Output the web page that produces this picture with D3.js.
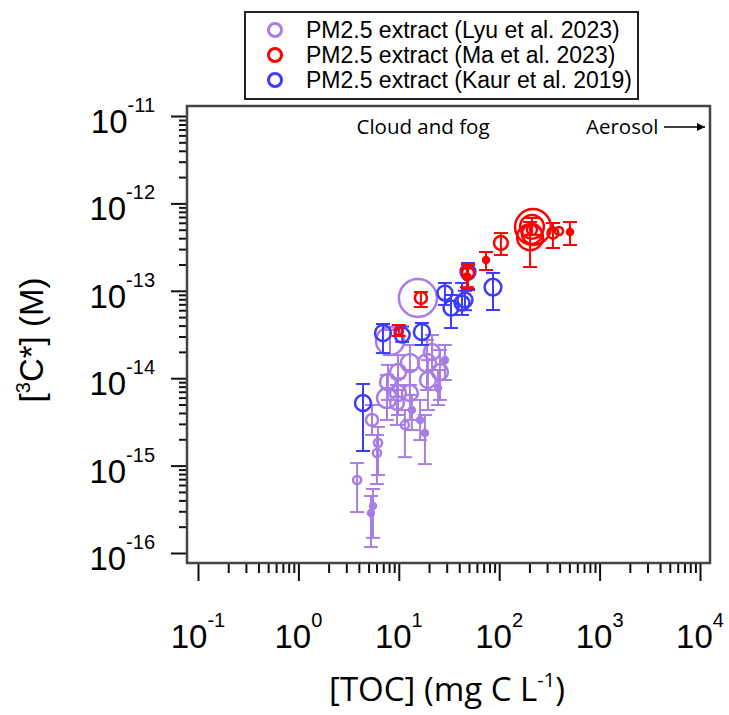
<!DOCTYPE html>
<html>
<head>
<meta charset="utf-8">
<script src="https://cdn.jsdelivr.net/npm/d3@7"></script>
<style>
  body { margin: 0; background: #fff; }
</style>
</head>
<body>
<div id="chart"></div>
<script>
// ---- data ----
// Lyu et al. 2023
const lyuToc = [15.5, 8.17, 12.9, 19.1, 9.82, 7.80, 7.63, 9.82, 12.9, 19.5, 25.7, 24.6, 9.60, 13.5, 16.3, 11.5, 18.2, 6.21, 6.06, 3.84, 5.53, 5.28, 21.4, 28.8, 5.41];
const lyuC3 = [8.28e-14, 2.67e-14, 1.49e-14, 1.49e-14, 1.18e-14, 9.06e-15, 5.93e-15, 6.78e-15, 6.78e-15, 9.53e-15, 1.18e-14, 7.73e-15, 5.20e-15, 4.32e-15, 3.33e-15, 2.92e-15, 2.36e-15, 1.82e-15, 1.39e-15, 6.84e-16, 3.45e-16, 2.87e-16, 2.00e-14, 1.61e-14, 3.33e-15];
const lyuLow = [null, 1.84e-14, 8.36e-15, 7.33e-15, 7.33e-15, 5.64e-15, 3.33e-15, 3.79e-15, 3.33e-15, 4.32e-15, 5.64e-15, 4.93e-15, 2.92e-15, 2.55e-15, 1.96e-15, 1.25e-15, 1.04e-15, 7.80e-16, 6.15e-16, 2.94e-16, 1.49e-16, 1.17e-16, 1.24e-14, 9.53e-15, 2.24e-15];
const lyuHigh = [null, 3.56e-14, 2.40e-14, 2.74e-14, 1.84e-14, 1.42e-14, 1.09e-14, 1.00e-14, 1.24e-14, 1.61e-14, 2.10e-14, 1.24e-14, 8.36e-15, 6.43e-15, 5.64e-15, 4.32e-15, 3.79e-15, 2.77e-15, 2.24e-15, 1.07e-15, 5.40e-16, 4.49e-16, 3.12e-14, 2.40e-14, 4.93e-15];
const lyuWeight = [10, 7.2, 4.4, 4.4, 3.8, 3.8, 4.9, 3.8, 3.8, 3.8, 3.8, 1, 3.2, 1, 1, 1.6, 1, 1.6, 1.6, 1.6, 1, 1, 3.8, 1, 2.7];

// Ma et al. 2023
const maToc = [16.6, 10.0, 48.9, 47.7, 73.9, 104, 217, 212, 212, 203, 212, 343, 394, 507];
const maC3 = [8.28e-14, 3.47e-14, 1.60e-13, 1.44e-13, 2.25e-13, 3.52e-13, 5.37e-13, 4.96e-13, 5.40e-13, 4.10e-13, 4.47e-13, 4.58e-13, 4.83e-13, 4.71e-13];
const maLow = [6.53e-14, 3.04e-14, 1.05e-13, 1.10e-13, 1.73e-13, 2.57e-13, null, 4.36e-13, null, 1.87e-13, null, 3.09e-13, null, 3.34e-13];
const maHigh = [9.69e-14, 4.06e-14, 1.97e-13, 1.80e-13, 2.78e-13, 4.58e-13, null, 6.81e-13, null, 6.12e-13, null, 5.97e-13, null, 6.12e-13];
const maWeight = [2.7, 1.6, 2.7, 1.3, 1, 3.2, 9.4, 2.1, 6, 6.6, 4.9, 2.4, 1.6, 1];

// Kaur et al. 2019
const kaurToc = [4.40, 6.96, 10.8, 17.0, 28.8, 33.1, 42.6, 45.6, 48.9, 86.7];
const kaurC3 = [5.20e-15, 3.29e-14, 3.12e-14, 3.38e-14, 9.44e-14, 6.35e-14, 7.25e-14, 7.85e-14, 1.64e-13, 1.10e-13];
const kaurLow = [1.47e-15, 1.94e-14, 2.60e-14, 2.40e-14, 6.89e-14, 3.75e-14, 5.29e-14, 6.00e-14, 1.02e-13, 6.03e-14];
const kaurHigh = [8.59e-15, 4.17e-14, 3.90e-14, 4.28e-14, 1.23e-13, 8.95e-14, 1.23e-13, 1.00e-13, 2.08e-13, 1.60e-13];
const kaurWeight = [3.8, 3.8, 3.5, 3.8, 3.5, 3.5, 3.5, 3.5, 3.5, 4];

const legendLabels = ["PM2.5 extract (Lyu et al. 2023)", "PM2.5 extract (Ma et al. 2023)", "PM2.5 extract (Kaur et al. 2019)"];
const xMajor = [0.1, 1, 10, 100, 1000, 10000];
const yMajor = [1e-11, 1e-12, 1e-13, 1e-14, 1e-15, 1e-16];

// ---- layout ----
const width = 729, height = 715;
const frame = {left: 187, right: 710, top: 106, bottom: 563};
const colors = {lyu: "#a87ee6", ma: "#ff0000", kaur: "#3c3cff"};
const tickFont = "'Liberation Sans', Arial, sans-serif";
const bodyFont = "'Open Sans', 'Noto Sans', sans-serif";

const svg = d3.select("#chart").append("svg")
    .attr("width", width)
    .attr("height", height);

const xScale = d3.scaleLog().domain([0.1, 1e4]).range([198, 700]);
const yScale = d3.scaleLog().domain([1e-11, 1e-16]).range([116, 553]);
const rScale = d3.scaleLinear().domain([1, 10]).range([3, 19]);

const xMinor = [];
xMajor.slice(0, -1).forEach((m) => { for (let k = 2; k <= 9; k++) xMinor.push(k * m); });
const yMinor = [];
yMajor.slice(1).forEach((m) => { for (let k = 2; k <= 9; k++) yMinor.push(k * m); });

// axes (ticks only, frame drawn separately)
const drawAxis = (axis, transform) => {
    const g = svg.append("g").attr("transform", transform).call(axis);
    g.select(".domain").remove();
    g.selectAll("line").attr("stroke", "#111").attr("stroke-width", 2);
    g.selectAll("text").remove();
    return g;
};
drawAxis(d3.axisBottom(xScale).tickValues(xMajor).tickSize(18).tickFormat(""), `translate(0,${frame.bottom})`);
drawAxis(d3.axisBottom(xScale).tickValues(xMinor).tickSize(10).tickFormat(""), `translate(0,${frame.bottom})`);
drawAxis(d3.axisLeft(yScale).tickValues(yMajor).tickSize(16).tickFormat(""), `translate(${frame.left},0)`);
drawAxis(d3.axisLeft(yScale).tickValues(yMinor).tickSize(8).tickFormat(""), `translate(${frame.left},0)`);

// frame
svg.append("rect")
    .attr("x", frame.left).attr("y", frame.top)
    .attr("width", frame.right - frame.left).attr("height", frame.bottom - frame.top)
    .attr("fill", "none").attr("stroke", "#444").attr("stroke-width", 2.5);

// power-of-ten tick labels
const powerLabel = (sel, v) => {
    const e = Math.round(Math.log10(v));
    sel.append("tspan").text("10");
    sel.append("tspan").attr("font-size", 20).attr("dy", -21).text(e);
};
xMajor.forEach((v) => {
    svg.append("text")
        .attr("x", xScale(v)).attr("y", 648)
        .attr("text-anchor", "middle")
        .attr("font-family", tickFont).attr("font-size", 33)
        .call(powerLabel, v);
});
yMajor.forEach((v) => {
    svg.append("text")
        .attr("x", 155).attr("y", yScale(v) + 17)
        .attr("text-anchor", "end")
        .attr("font-family", tickFont).attr("font-size", 33)
        .call(powerLabel, v);
});

// axis titles
const xTitle = svg.append("text")
    .attr("x", 447).attr("y", 701)
    .attr("text-anchor", "middle")
    .attr("font-family", bodyFont).attr("font-size", 33);
xTitle.append("tspan").text("[TOC] (mg C L");
xTitle.append("tspan").attr("font-size", 20).attr("dy", -14).text("-1");
xTitle.append("tspan").attr("dy", 14).text(")");

const yTitle = svg.append("text")
    .attr("transform", "translate(43,340) rotate(-90)")
    .attr("text-anchor", "middle")
    .attr("font-family", tickFont).attr("font-size", 33);
yTitle.append("tspan").text("[");
yTitle.append("tspan").attr("font-size", 20).attr("dy", -13).text("3");
yTitle.append("tspan").attr("dy", 13).text("C*] (M)");

// annotations
svg.append("text")
    .attr("x", 423).attr("y", 134)
    .attr("text-anchor", "middle")
    .attr("font-family", bodyFont).attr("font-size", 20.5)
    .text("Cloud and fog");
svg.append("text")
    .attr("x", 586).attr("y", 134)
    .attr("font-family", bodyFont).attr("font-size", 20.5)
    .text("Aerosol");
svg.append("defs").append("marker")
    .attr("id", "arrowhead")
    .attr("viewBox", "0 0 10 10").attr("refX", 10).attr("refY", 5)
    .attr("markerWidth", 11).attr("markerHeight", 8)
    .attr("markerUnits", "userSpaceOnUse")
    .attr("orient", "auto")
    .append("path").attr("d", "M0,0L10,5L0,10Z").attr("fill", "#000");
svg.append("line")
    .attr("x1", 664).attr("y1", 127).attr("x2", 705).attr("y2", 127)
    .attr("stroke", "#000").attr("stroke-width", 1.3)
    .attr("marker-end", "url(#arrowhead)");

// series
const drawSeries = (toc, c3, low, high, weight, color) => {
    const rows = toc.map((x, i) => ({x, y: c3[i], lo: low[i], hi: high[i], w: weight[i]}));
    const g = svg.append("g");
    rows.filter((d) => d.lo !== null).forEach((d) => {
        const cx = xScale(d.x);
        const eb = g.append("g").attr("stroke", color).attr("stroke-width", 2);
        eb.append("line").attr("x1", cx).attr("x2", cx).attr("y1", yScale(d.hi)).attr("y2", yScale(d.lo));
        [d.hi, d.lo].forEach((v) => {
            eb.append("line").attr("x1", cx - 7).attr("x2", cx + 7).attr("y1", yScale(v)).attr("y2", yScale(v));
        });
    });
    g.selectAll("circle")
        .data(rows)
        .join("circle")
        .attr("cx", (d) => xScale(d.x))
        .attr("cy", (d) => yScale(d.y))
        .attr("r", (d) => rScale(d.w))
        .attr("fill", (d) => d.w <= 1.3 ? color : "none")
        .attr("stroke", color)
        .attr("stroke-width", 2.5);
};
drawSeries(lyuToc, lyuC3, lyuLow, lyuHigh, lyuWeight, colors.lyu);
drawSeries(kaurToc, kaurC3, kaurLow, kaurHigh, kaurWeight, colors.kaur);
drawSeries(maToc, maC3, maLow, maHigh, maWeight, colors.ma);

// legend
const legend = svg.append("g");
legend.append("rect")
    .attr("x", 245).attr("y", 12).attr("width", 393).attr("height", 87)
    .attr("fill", "#fff").attr("stroke", "#222").attr("stroke-width", 2);
[colors.lyu, colors.ma, colors.kaur].forEach((c, i) => {
    const cy = 30 + i * 25;
    legend.append("circle")
        .attr("cx", 275).attr("cy", cy).attr("r", 6.5)
        .attr("fill", "none").attr("stroke", c).attr("stroke-width", 3);
    legend.append("text")
        .attr("x", 306).attr("y", cy + 8)
        .attr("font-family", tickFont).attr("font-size", 23)
        .text(legendLabels[i]);
});
</script>
</body>
</html>
